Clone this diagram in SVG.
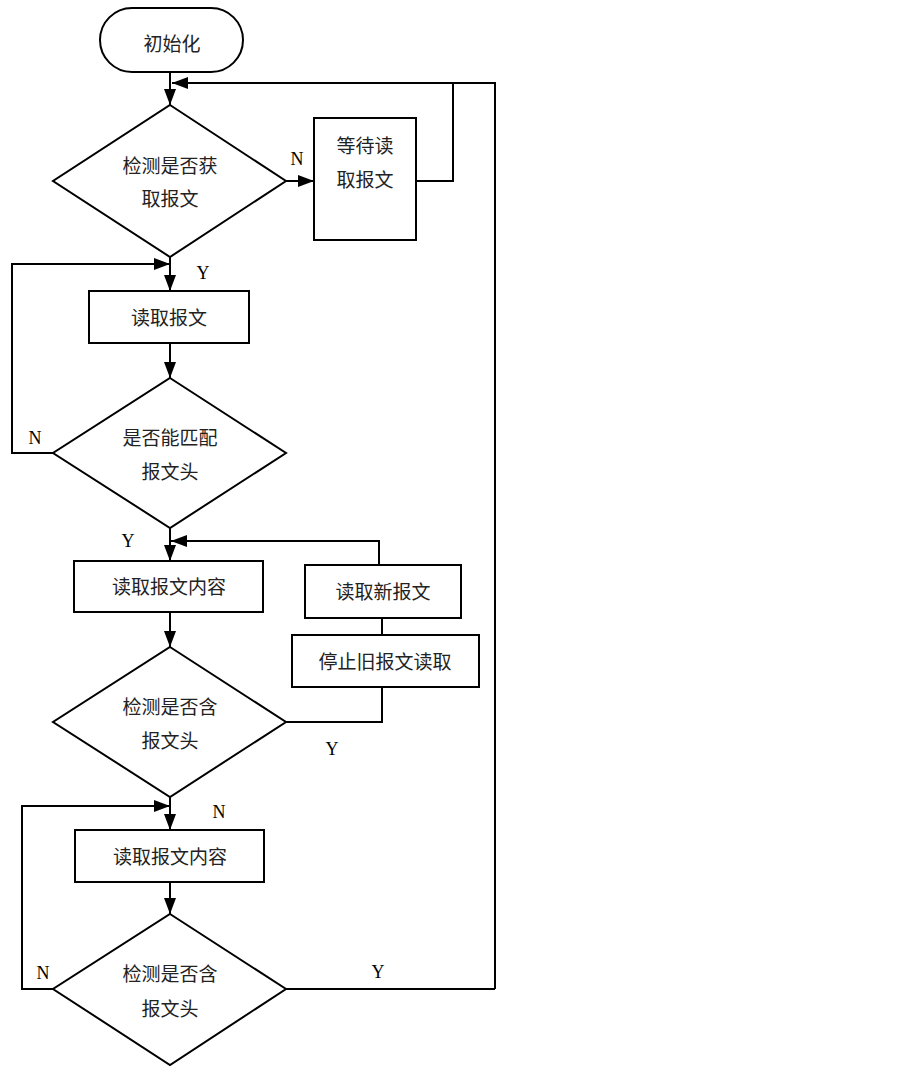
<svg xmlns="http://www.w3.org/2000/svg" width="903" height="1069" viewBox="0 0 903 1069">
<style>
.s{fill:#fff;stroke:#000;stroke-width:2}
.c{fill:none;stroke:#000;stroke-width:2}
.t{font-family:"Noto Sans CJK SC","Noto Sans CJK JP",sans-serif;font-size:19px;fill:#222;text-anchor:middle;dominant-baseline:central}
.l{font-family:"Liberation Serif",serif;font-size:18px;fill:#000;text-anchor:middle;dominant-baseline:central}
</style>
<defs>
<marker id="ah" viewBox="0 0 16 12" refX="16" refY="6" markerWidth="16" markerHeight="12" markerUnits="userSpaceOnUse" orient="auto">
<path d="M0,0 L16,6 L0,12 Z" fill="#000"/>
</marker>
</defs>
<rect width="903" height="1069" fill="#fff"/>
<g id="connectors">
<path class="c" d="M170,72 V105" marker-end="url(#ah)"/>
<path class="c" d="M495,989 V83 H172" marker-end="url(#ah)"/>
<path class="c" d="M286,181 H314" marker-end="url(#ah)"/>
<path class="c" d="M416,181 H453 V83"/>
<path class="c" d="M170,257 V291" marker-end="url(#ah)"/>
<path class="c" d="M53,453 H12 V264 H170" marker-end="url(#ah)"/>
<path class="c" d="M170,343 V378" marker-end="url(#ah)"/>
<path class="c" d="M170,528 V561" marker-end="url(#ah)"/>
<path class="c" d="M379,565 V541 H171" marker-end="url(#ah)"/>
<path class="c" d="M382,618 V635"/>
<path class="c" d="M382,687 V722 H286"/>
<path class="c" d="M170,612 V647" marker-end="url(#ah)"/>
<path class="c" d="M170,797 V830" marker-end="url(#ah)"/>
<path class="c" d="M53,989 H22 V806 H170" marker-end="url(#ah)"/>
<path class="c" d="M170,882 V914" marker-end="url(#ah)"/>
<path class="c" d="M286,989 H495"/>
</g>
<g id="labels">
<text class="l" x="297" y="159">N</text>
<text class="l" x="203" y="273">Y</text>
<text class="l" x="35" y="438">N</text>
<text class="l" x="128" y="541">Y</text>
<text class="l" x="332" y="749">Y</text>
<text class="l" x="219" y="812">N</text>
<text class="l" x="43" y="973">N</text>
<text class="l" x="378" y="972">Y</text>
</g>
<g id="start">
<rect class="s" x="100" y="8" width="143" height="64" rx="32"/>
<text class="t" x="172" y="42">初始化</text>
</g>
<g id="check-get">
<polygon class="s" points="170,105 286,181 170,257 53,181"/>
<text class="t" x="170" y="164">检测是否获</text>
<text class="t" x="170" y="197">取报文</text>
</g>
<g id="wait">
<rect class="s" x="314" y="118" width="102" height="122"/>
<text class="t" x="365" y="144">等待读</text>
<text class="t" x="365" y="178">取报文</text>
</g>
<g id="read">
<rect class="s" x="89" y="291" width="160" height="52"/>
<text class="t" x="169" y="316">读取报文</text>
</g>
<g id="match-head">
<polygon class="s" points="170,378 286,453 170,528 53,453"/>
<text class="t" x="170" y="436">是否能匹配</text>
<text class="t" x="170" y="470">报文头</text>
</g>
<g id="read-content-1">
<rect class="s" x="74" y="561" width="189" height="51"/>
<text class="t" x="169" y="585">读取报文内容</text>
</g>
<g id="read-new">
<rect class="s" x="305" y="565" width="156" height="53"/>
<text class="t" x="383" y="590">读取新报文</text>
</g>
<g id="stop-old">
<rect class="s" x="292" y="635" width="187" height="52"/>
<text class="t" x="385" y="660">停止旧报文读取</text>
</g>
<g id="check-head-1">
<polygon class="s" points="170,647 286,722 170,797 53,722"/>
<text class="t" x="170" y="705">检测是否含</text>
<text class="t" x="170" y="739">报文头</text>
</g>
<g id="read-content-2">
<rect class="s" x="75" y="830" width="189" height="52"/>
<text class="t" x="170" y="855">读取报文内容</text>
</g>
<g id="check-head-2">
<polygon class="s" points="170,914 286,989 170,1065 53,989"/>
<text class="t" x="170" y="972">检测是否含</text>
<text class="t" x="170" y="1007">报文头</text>
</g>
</svg>
